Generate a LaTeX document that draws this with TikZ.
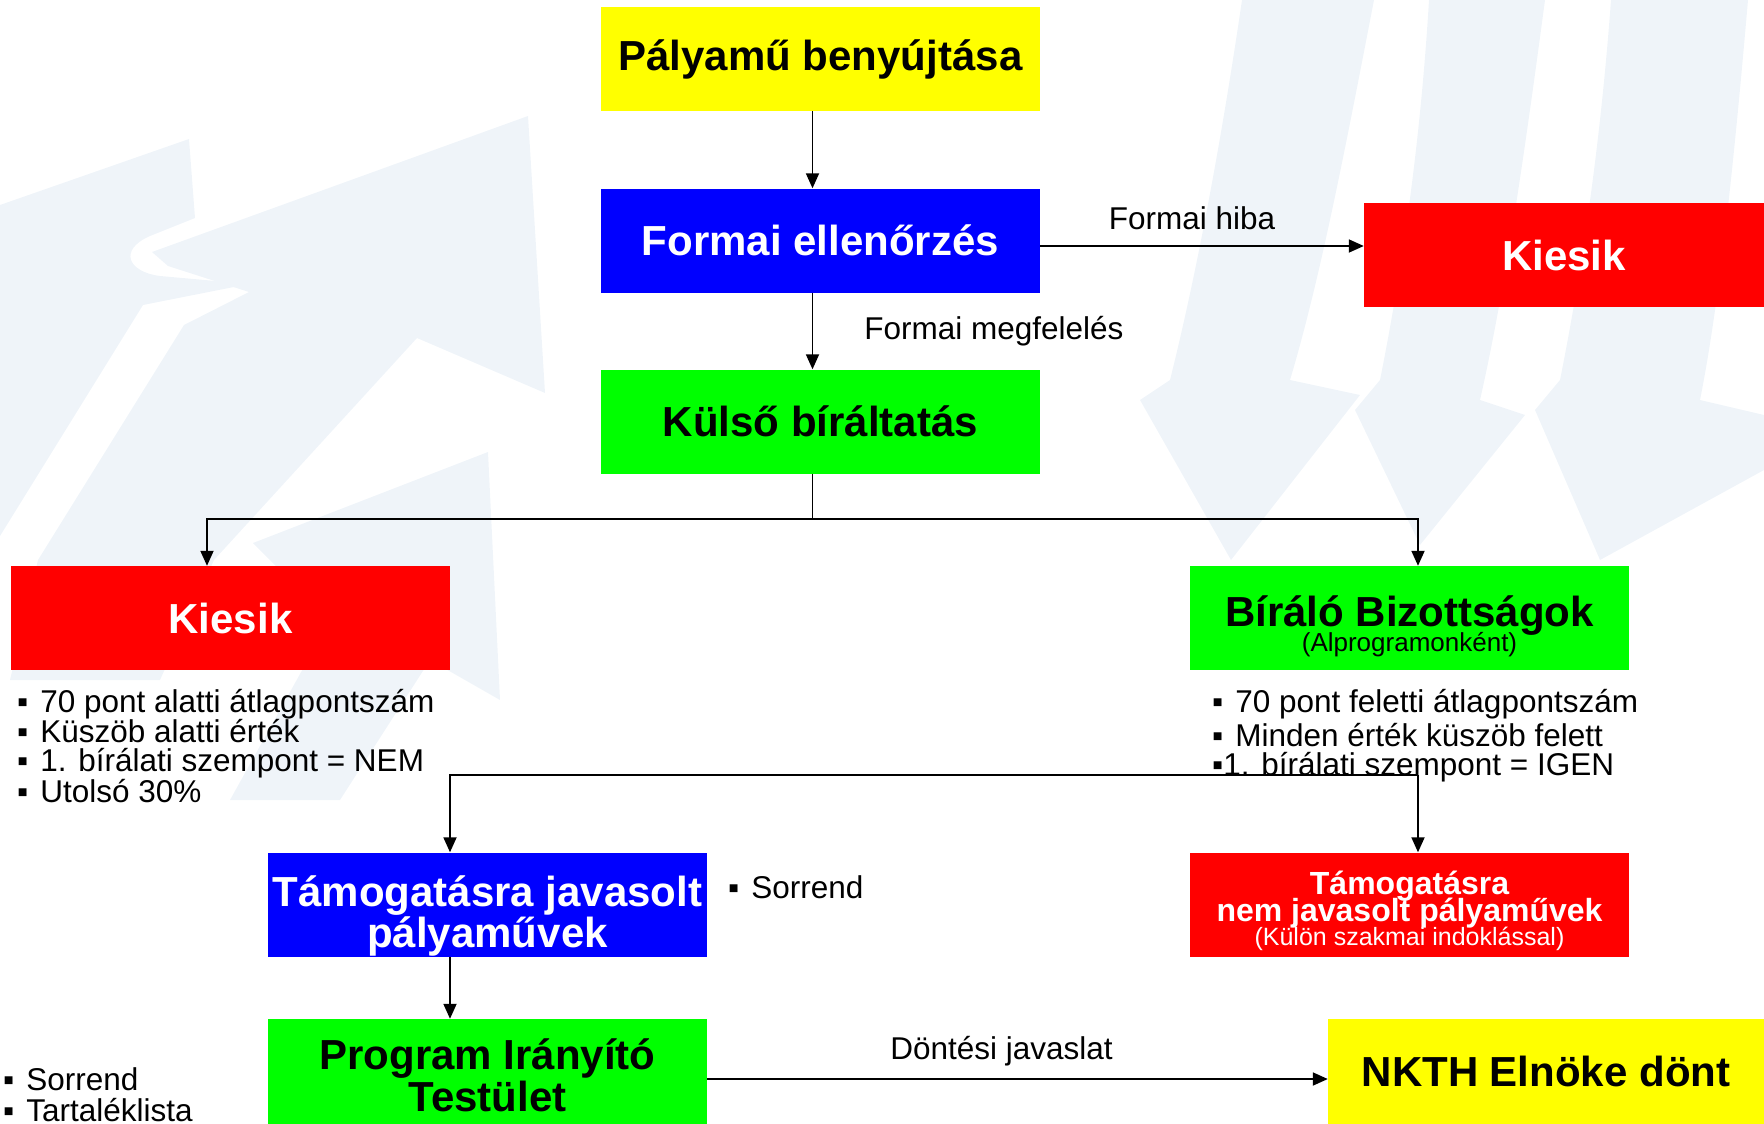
\documentclass[tikz,border=0pt]{standalone}
\usepackage{fontspec}
\setmainfont{Liberation Sans}
\usetikzlibrary{arrows.meta}
\definecolor{wm}{RGB}{239,244,249}
\definecolor{yel}{RGB}{255,255,0}
\definecolor{blu}{RGB}{0,0,255}
\definecolor{grn}{RGB}{0,255,0}
\definecolor{rd}{RGB}{255,0,0}
\newcommand{\itm}{▪\hspace{12pt}}

\begin{document}
\begin{tikzpicture}[x=1pt,y=-1pt]
\tikzstyle{box}=[rectangle,minimum width=439pt,minimum height=104pt,inner sep=0pt,align=center,font=\bfseries\fontsize{42}{41}\selectfont]
\tikzstyle{ttl}=[inner sep=0pt,anchor=base,font=\bfseries\fontsize{42}{41}\selectfont]
\tikzstyle{lbl}=[inner sep=0pt,font=\fontsize{31.5}{30}\selectfont]
\tikzstyle{arr}=[line width=1.8pt,-{Triangle[length=15pt,width=13pt]}]
\tikzstyle{ln}=[line width=1.8pt]
\useasboundingbox (0,0) rectangle (1764,1124);
\clip (0,0) rectangle (1764,1124);
% faint arrows in the background
\fill[wm] (0,205) -- (189,139) -- (195,218) -- (150,236) .. controls (118,250) and (128,272) .. (160,276) -- (249,284) -- (143,305) -- (0,536) -- cycle;
\fill[wm] (152,252) -- (528,116) -- (545,393) -- (417,338) -- (214,560) -- (160,680) -- (10,680) -- (38,560) -- (184,325) -- (249,292) -- (168,266) -- cycle;
\fill[wm] (253,543) -- (488,452) -- (500,700) -- (430,660) -- (340,800) -- (230,800) -- (330,620) -- cycle;
\fill[wm] (1242,0) -- (1374,0) .. controls (1345,150) and (1320,280) .. (1290,380) -- (1360,395) -- (1231,560) -- (1140,400) -- (1170,380) .. controls (1195,280) and (1220,150) .. cycle;
\fill[wm] (1429,0) -- (1545,0) .. controls (1525,150) and (1505,290) .. (1480,400) -- (1525,415) -- (1420,545) -- (1355,410) -- (1380,380) .. controls (1400,280) and (1420,150) .. cycle;
\fill[wm] (1611,0) -- (1748,0) .. controls (1735,150) and (1720,300) .. (1700,400) -- (1764,415) -- (1764,470) -- (1600,560) -- (1535,410) -- (1560,380) .. controls (1580,280) and (1600,150) .. cycle;
% boxes
\node[box,fill=yel] (ben) at (820.5,59) {Pályamű benyújtása};
\node[box,fill=blu,text=white] (forma) at (820.5,240.5) {Formai ellenőrzés};
\node[box,fill=grn] (kulso) at (820.5,421.5) {Külső bíráltatás};
\node[box,fill=rd,text=white,minimum width=400pt] (kiesA) at (1564,255) {Kiesik};
\node[box,fill=rd,text=white] (kiesB) at (230.5,618) {Kiesik};
\node[box,fill=grn] (biz) at (1409.5,618) {};
\node[box,fill=blu] (tam) at (487.5,904.5) {};
\node[box,fill=rd] (nem) at (1409.5,904.5) {};
\node[box,fill=grn,minimum height=105pt] (pit) at (487.5,1071.5) {};
\node[box,fill=yel,minimum width=436pt,minimum height=105pt] (nkth) at (1546,1071.5) {NKTH Elnöke dönt};
% box texts of more than one line
\node[ttl] (biz1) at (1409.5,626) {Bíráló Bizottságok};
\node[ttl,font=\fontsize{26}{26}\selectfont] (biz2) at (1409.5,651) {(Alprogramonként)};
\node[ttl,text=white] (tam1) at (487.5,906) {Támogatásra javasolt};
\node[ttl,text=white] (tam2) at (487.5,947) {pályaművek};
\node[ttl,text=white,font=\bfseries\fontsize{32}{32}\selectfont] (nem1) at (1409.5,894.5) {Támogatásra};
\node[ttl,text=white,font=\bfseries\fontsize{32}{32}\selectfont] (nem2) at (1409.5,921.5) {nem javasolt pályaművek};
\node[ttl,text=white,font=\fontsize{25}{25}\selectfont] (nem3) at (1409.5,945) {(Külön szakmai indoklással)};
\node[ttl] (pit1) at (487.5,1069) {Program Irányító};
\node[ttl] (pit2) at (487.5,1111) {Testület};
% connectors
\draw[arr] ([xshift=-8pt]ben.south) -- ([xshift=-8pt]forma.north);
\draw[arr] ([xshift=-8pt]forma.south) -- ([xshift=-8pt]kulso.north) node[lbl,midway,right=51pt] (lmeg) {Formai megfelelés};
\draw[arr] ([yshift=-5.5pt]forma.east) -- ([yshift=-5.5pt]forma.east -| kiesA.west) node[lbl,midway,above=15pt,xshift=-10pt] (lhiba) {Formai hiba};
\draw[ln] ([xshift=-8pt]kulso.south) -- ++(0,45) coordinate (br1);
\draw[arr] (br1) -| ([xshift=-23.5pt]kiesB.north);
\draw[arr] (br1) -| ([xshift=8.5pt]biz.north);
\coordinate (br2) at ([xshift=8.5pt,yshift=-105pt]biz.south);
\draw[arr] (br2) -- ([xshift=8.5pt]nem.north);
\draw[arr] (br2) -| ([xshift=-37.5pt]tam.north);
\draw[arr] ([xshift=-37.5pt]tam.south) -- ([xshift=-37.5pt]pit.north);
\draw[arr] ([yshift=-7.5pt]pit.east) -- ([yshift=-7.5pt]nkth.west) node[lbl,midway,above=12pt,xshift=-16pt] (ldont) {Döntési javaslat};
% bullet lists
\node[lbl,anchor=base west] (a1) at (17,712.5) {\itm 70 pont alatti átlagpontszám};
\node[lbl,anchor=base west] (a2) at (17,742) {\itm Küszöb alatti érték};
\node[lbl,anchor=base west] (a3) at (17,771.5) {\itm 1. bírálati szempont = NEM};
\node[lbl,anchor=base west] (a4) at (17,802) {\itm Utolsó 30\%};
\node[lbl,anchor=base west] (b1) at (1212,712.5) {\itm 70 pont feletti átlagpontszám};
\node[lbl,anchor=base west] (b2) at (1212,746.5) {\itm Minden érték küszöb felett};
\node[lbl,anchor=base west] (b3) at (1212,775.5) {▪1. bírálati szempont = IGEN};
\node[lbl,anchor=base west] (c1) at (728,898.5) {\itm Sorrend};
\node[lbl,anchor=base west] (d1) at (3,1090) {\itm Sorrend};
\node[lbl,anchor=base west] (d2) at (3,1121) {\itm Tartaléklista};
\end{tikzpicture}
\end{document}
